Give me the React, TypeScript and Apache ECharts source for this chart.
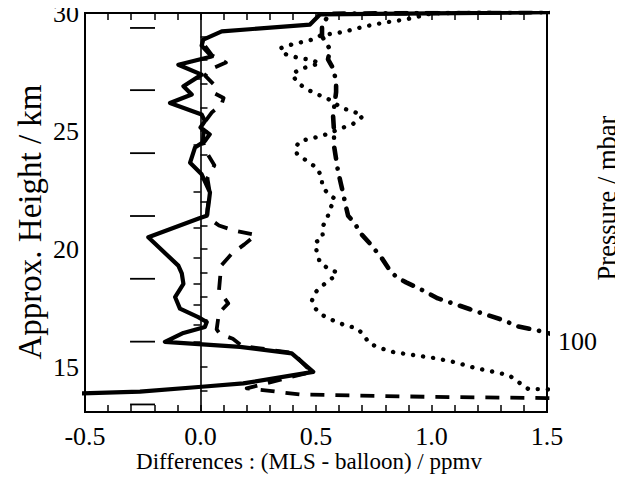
import React, { useEffect, useRef } from "react";
import * as echarts from "echarts";

// ---- axis ticks / labels ----
const xLabelTicks = [-0.5, 0.0, 0.5, 1.0, 1.5];
const heightLabels = [15, 20, 25, 30];
const heightTicks = [14, 15, 16, 17, 18, 19, 20, 21, 22, 23, 24, 25, 26, 27, 28, 29, 30];
const pressureTicks = [20, 30, 40, 50, 60, 70, 80, 90, 100];
const pressureLabels = [100];
// MLS retrieval levels (mbar), marked by short dashes
const mlsLevels = [146.8, 100, 68.1, 46.4, 31.6, 21.5, 14.7];

// approximate height of a pressure level
const H100 = 16.08;
const SCALE_H = 6.93;
const pressureToKm = (p: number) => H100 + SCALE_H * Math.log(100 / p);
const kmToPressure = (h: number) => 100 * Math.exp(-(h - H100) / SCALE_H);

// ---- profiles: [difference (ppmv), height (km)] ----
const solidProfile: [number, number][] = [
  [1.7, 30.05], [0.517, 29.94], [0.474, 29.51], [0.092, 29.22], [0.012, 28.87],
  [0.005, 28.62], [0.048, 28.16], [-0.096, 27.81], [0.005, 27.39], [-0.074, 26.9],
  [-0.038, 26.55], [-0.132, 26.19], [0.005, 25.7], [0.019, 25.42], [0.0, 25.15],
  [0.04, 24.86], [0.019, 24.58], [-0.024, 24.3], [-0.045, 23.66], [0.005, 23.17],
  [0.041, 22.4], [0.034, 21.84], [0.027, 21.41], [-0.002, 21.32], [-0.226, 20.5],
  [-0.096, 19.3], [-0.081, 18.97], [-0.074, 18.53], [-0.11, 17.97], [-0.089, 17.48],
  [-0.01, 17.12], [0.027, 16.91], [0.019, 16.7], [-0.074, 16.45], [-0.154, 16.07],
  [0.171, 15.86], [0.395, 15.58], [0.488, 14.8], [0.185, 14.31], [0.005, 14.17],
  [-0.262, 13.96], [-0.6, 13.86],
];

const dashedProfile: [number, number][] = [
  [0.02, 28.6], [0.05, 28.2], [0.11, 27.9], [0.04, 27.6], [0.02, 27.35],
  [0.06, 26.95], [0.06, 26.6], [0.1, 26.4], [0.09, 26.1], [0.05, 25.8],
  [0.02, 25.4], [0.01, 24.6], [0.02, 24.2], [0.06, 23.55], [0.03, 23.0],
  [0.04, 22.4], [0.03, 21.7], [0.03, 21.35], [0.08, 21.0], [0.14, 20.8],
  [0.24, 20.6], [0.19, 20.2], [0.135, 19.8], [0.09, 19.3], [0.085, 18.8],
  [0.08, 18.25], [0.12, 17.7], [0.08, 17.3], [0.07, 16.6], [0.085, 16.4],
  [0.14, 16.2], [0.18, 15.9], [0.4, 15.6], [0.48, 14.8], [0.2, 14.1],
  [0.27, 14.03], [0.43, 13.84], [1.0, 13.74], [1.5, 13.69], [1.7, 13.67],
];

const dottedProfile: [number, number][] = [
  [1.25, 30.05], [1.0, 29.98], [0.89, 29.73], [0.8, 29.6], [0.71, 29.43],
  [0.62, 29.2], [0.52, 29.05], [0.487, 28.88], [0.396, 28.67], [0.344, 28.5],
  [0.37, 28.25], [0.43, 28.08], [0.474, 28.03], [0.517, 27.87], [0.474, 27.75],
  [0.43, 27.62], [0.396, 27.4], [0.422, 27.03], [0.461, 26.77], [0.504, 26.56],
  [0.548, 26.39], [0.613, 25.97], [0.66, 25.84], [0.703, 25.63], [0.66, 25.3],
  [0.613, 25.13], [0.548, 24.87], [0.487, 24.7], [0.431, 24.58], [0.409, 24.28],
  [0.418, 24.03], [0.461, 23.73], [0.504, 23.44], [0.526, 23.02], [0.526, 22.68],
  [0.552, 22.34], [0.582, 22.13], [0.561, 21.71], [0.548, 21.29], [0.526, 20.91],
  [0.53, 20.49], [0.496, 20.27], [0.504, 19.85], [0.517, 19.43], [0.552, 19.18],
  [0.591, 19.01], [0.574, 18.8], [0.539, 18.54], [0.496, 18.16], [0.483, 17.83],
  [0.496, 17.49], [0.53, 17.19], [0.574, 16.98], [0.626, 16.77], [0.677, 16.65],
  [0.708, 16.35], [0.729, 16.01], [0.781, 15.8], [0.838, 15.63], [0.924, 15.51],
  [1.015, 15.38], [1.1, 15.21], [1.19, 14.96], [1.275, 14.79], [1.335, 14.66],
  [1.383, 14.32], [1.42, 14.07], [1.48, 14.07], [1.6, 14.0],
];

const dashDotProfile: [number, number][] = [
  [1.7, 30.05], [0.56, 29.97], [0.526, 29.5], [0.526, 29.01], [0.561, 28.46],
  [0.552, 28.04], [0.574, 27.66], [0.587, 27.11], [0.587, 26.65], [0.582, 26.27],
  [0.574, 25.63], [0.578, 25.0], [0.578, 24.37], [0.587, 23.82], [0.595, 23.31],
  [0.608, 22.76], [0.617, 22.38], [0.626, 21.96], [0.639, 21.41], [0.669, 21.08],
  [0.69, 20.7], [0.734, 20.23], [0.786, 19.6], [0.82, 19.09], [0.85, 18.8],
  [0.89, 18.59], [0.955, 18.29], [1.028, 17.91], [1.093, 17.7], [1.167, 17.45],
  [1.232, 17.24], [1.314, 16.98], [1.37, 16.73], [1.457, 16.56], [1.509, 16.43],
  [1.6, 16.2],
];

const FONT = "'Liberation Serif', 'Times New Roman', serif";
const BLACK = "#000";
const TICK_FONT = 26;

export default function App() {
  const ref = useRef<HTMLDivElement>(null);

  useEffect(() => {
    if (!ref.current) return;
    const chart = echarts.init(ref.current, null, { renderer: "svg" });

    const tickStyle = { color: BLACK, width: 1.5 };
    const baseX = {
      type: "value" as const,
      min: -0.5,
      max: 1.5,
      interval: 0.5,
      axisLine: { show: false },
      splitLine: { show: false },
      axisTick: { show: true, inside: true, length: 7, lineStyle: tickStyle },
      minorTick: { show: true, splitNumber: 5, length: 7, lineStyle: tickStyle },
      minorSplitLine: { show: false },
    };

    const option: any = {
      animation: false,
      backgroundColor: "#fff",
      grid: {
        left: 85,
        right: 76,
        top: 12,
        bottom: 70,
        show: true,
        borderColor: BLACK,
        borderWidth: 2,
        backgroundColor: "transparent",
      },
      xAxis: [
        {
          ...baseX,
          position: "bottom",
          axisLabel: {
            color: BLACK,
            fontFamily: FONT,
            fontSize: TICK_FONT,
            margin: 11,
            customValues: xLabelTicks,
            formatter: (v: number) => v.toFixed(1),
          },
        },
        {
          ...baseX,
          position: "top",
          axisLabel: { show: false },
        },
      ],
      yAxis: [
        {
          type: "value",
          min: 13.1,
          max: 30,
          position: "left",
          axisLine: { show: false },
          splitLine: { show: false },
          axisTick: {
            show: true,
            inside: true,
            length: 7,
            customValues: heightTicks,
            lineStyle: tickStyle,
          },
          axisLabel: {
            color: BLACK,
            fontFamily: FONT,
            fontSize: TICK_FONT,
            margin: 6,
            customValues: heightLabels,
          },
        },
        {
          type: "value",
          min: 13.1,
          max: 30,
          position: "right",
          axisLine: { show: false },
          splitLine: { show: false },
          axisTick: {
            show: true,
            inside: true,
            length: 7,
            customValues: pressureTicks.map(pressureToKm),
            lineStyle: tickStyle,
          },
          axisLabel: {
            color: BLACK,
            fontFamily: FONT,
            fontSize: TICK_FONT,
            margin: 11,
            customValues: pressureLabels.map(pressureToKm),
            formatter: (v: number) => String(Math.round(kmToPressure(v))),
          },
        },
      ],
      graphic: [
        {
          type: "text",
          x: 309,
          y: 461,
          style: {
            text: "Differences : (MLS - balloon) / ppmv",
            fill: BLACK,
            font: `23px ${FONT}`,
            align: "center",
            verticalAlign: "middle",
          },
        },
        {
          type: "text",
          x: 30,
          y: 222,
          rotation: Math.PI / 2,
          style: {
            text: "Approx. Height / km",
            fill: BLACK,
            font: `33px ${FONT}`,
            align: "center",
            verticalAlign: "middle",
          },
        },
        {
          type: "text",
          x: 607,
          y: 198,
          rotation: Math.PI / 2,
          style: {
            text: "Pressure / mbar",
            fill: BLACK,
            font: `26.5px ${FONT}`,
            align: "center",
            verticalAlign: "middle",
          },
        },
      ],
      series: [
        {
          name: "zero",
          type: "line",
          data: [],
          markLine: {
            silent: true,
            symbol: "none",
            label: { show: false },
            lineStyle: { color: BLACK, width: 1.6, type: "solid" },
            data: [{ xAxis: 0 }],
          },
        },
        {
          name: "MLS levels",
          type: "custom",
          data: mlsLevels.map((p) => [-0.25, pressureToKm(p)]),
          renderItem: (_params: any, api: any) => {
            const h = api.value(1);
            const a = api.coord([-0.305, h]);
            const b = api.coord([-0.197, h]);
            return {
              type: "line",
              shape: { x1: a[0], y1: a[1], x2: b[0], y2: b[1] },
              style: { stroke: BLACK, lineWidth: 1.8 },
            };
          },
          silent: true,
        },
        {
          name: "dotted",
          type: "line",
          data: dottedProfile,
          showSymbol: false,
          clip: true,
          lineStyle: { color: BLACK, width: 4.4, type: [0.1, 10], cap: "round", join: "round" },
        },
        {
          name: "dash-dot",
          type: "line",
          data: dashDotProfile,
          showSymbol: false,
          clip: true,
          lineStyle: { color: BLACK, width: 4.6, type: [11, 10, 0.1, 10], cap: "round", join: "round" },
        },
        {
          name: "dashed",
          type: "line",
          data: dashedProfile,
          showSymbol: false,
          clip: true,
          lineStyle: { color: BLACK, width: 3.8, type: [14, 11], cap: "butt", join: "round" },
        },
        {
          name: "solid",
          type: "line",
          data: solidProfile,
          showSymbol: false,
          clip: true,
          lineStyle: { color: BLACK, width: 4.2, type: "solid", cap: "round", join: "round" },
        },
      ],
    };

    chart.setOption(option);
    return () => chart.dispose();
  }, []);

  return <div ref={ref} style={{ width: 623, height: 482, margin: -8 }} />;
}
